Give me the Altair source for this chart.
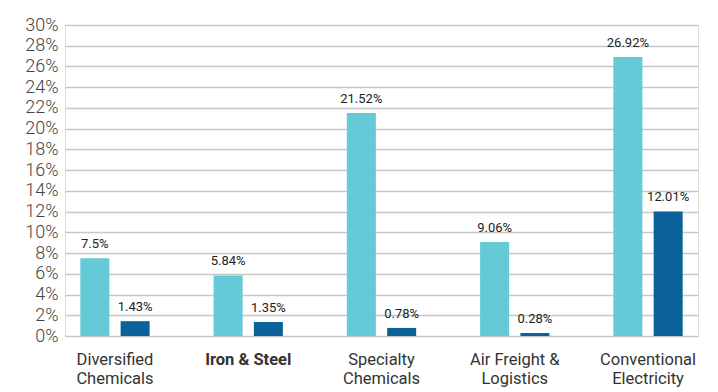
import altair as alt
import pandas as pd

# Sector names and the two compared series (percent values)
categories = [
    "Diversified Chemicals",
    "Iron & Steel",
    "Specialty Chemicals",
    "Air Freight & Logistics",
    "Conventional Electricity",
]
series_names = ["Group 1", "Group 2"]
group1_values = [7.5, 5.84, 21.52, 9.06, 26.92]
group2_values = [1.43, 1.35, 0.78, 0.28, 12.01]
y_ticks = list(range(0, 31, 2))

rows = []
for cat, v1, v2 in zip(categories, group1_values, group2_values):
    rows.append({"sector": cat, "series": series_names[0], "value": v1})
    rows.append({"sector": cat, "series": series_names[1], "value": v2})
df = pd.DataFrame(rows)

FONT = "Roboto"

x_enc = alt.X(
    "sector:N",
    sort=categories,
    title=None,
    scale=alt.Scale(paddingInner=0.48, paddingOuter=0.115),
    axis=alt.Axis(
        domain=False,
        ticks=False,
        grid=False,
        labelAngle=0,
        labelFont=FONT,
        labelFontSize=16.5,
        labelColor="#333333",
        labelPadding=15,
        labelLineHeight=19,
        labelBaseline="top",
        labelFontWeight={
            "condition": {"test": "datum.value == 'Iron & Steel'", "value": "bold"},
            "value": "normal",
        },
        labelExpr=(
            "datum.value == 'Iron & Steel' ? datum.value : "
            "[slice(datum.value, 0, lastindexof(datum.value, ' ')), "
            "slice(datum.value, lastindexof(datum.value, ' ') + 1)]"
        ),
    ),
)

x_off = alt.XOffset(
    "series:N",
    sort=series_names,
    scale=alt.Scale(paddingInner=0.28, paddingOuter=0),
)

y_enc = alt.Y(
    "value:Q",
    title=None,
    scale=alt.Scale(domain=[0, 30], nice=False),
    axis=alt.Axis(
        values=y_ticks,
        domain=False,
        ticks=False,
        grid=True,
        gridColor="#c8c8c8",
        gridWidth=1.6,
        labelFont=FONT,
        labelFontSize=18,
        labelFontWeight=300,
        labelColor="#444444",
        labelPadding=7,
        labelExpr="datum.value + '%'",
    ),
)

color_enc = alt.Color(
    "series:N",
    sort=series_names,
    scale=alt.Scale(domain=series_names, range=["#65cad8", "#0a6299"]),
    legend=None,
)

base = alt.Chart(df).encode(x=x_enc, xOffset=x_off, y=y_enc)

bars = base.mark_bar().encode(color=color_enc)

labels = (
    base.transform_calculate(label="datum.value + '%'")
    .mark_text(baseline="bottom", dy=-7, font=FONT, fontSize=13, color="#222222")
    .encode(text="label:N")
)

chart = (
    alt.layer(bars, labels)
    .properties(
        width=633,
        height=311,
        autosize=alt.AutoSizeParams(type="none"),
        padding={"left": 65, "top": 25, "right": 20, "bottom": 56},
    )
    .configure_view(stroke=None)
    .configure(background="white")
)

chart.save("out.html", embed_options={"renderer": "svg", "actions": False})
